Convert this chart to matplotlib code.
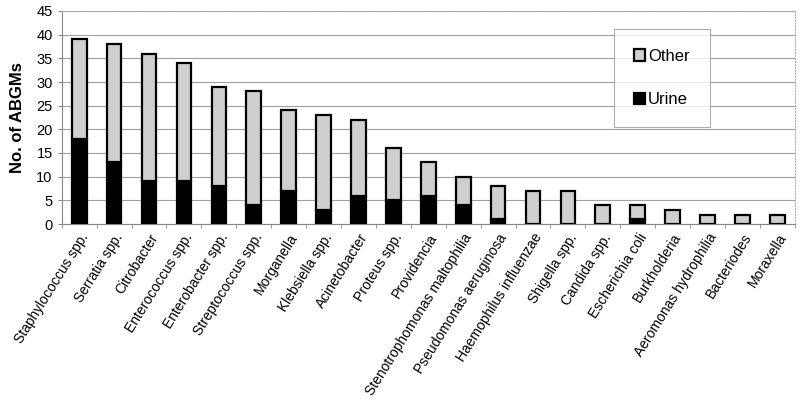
import numpy as np
import matplotlib
matplotlib.use('Agg')
import matplotlib.pyplot as plt

plt.rcParams['font.family'] = ['Liberation Sans', 'DejaVu Sans']

# Organisms and counts (ABGMs by source)
organisms = ['Staphylococcus spp.', 'Serratia spp.', 'Citrobacter', 'Enterococcus spp.',
             'Enterobacter spp.', 'Streptococcus spp.', 'Morganella', 'Klebsiella spp.',
             'Acinetobacter', 'Proteus spp.', 'Providencia', 'Stenotrophomonas maltophilia',
             'Pseudomonas aeruginosa', 'Haemophilus influenzae', 'Shigella spp.', 'Candida spp.',
             'Escherichia coli', 'Burkholderia', 'Aeromonas hydrophilia', 'Bacteriodes', 'Moraxella']
urine = [18, 13, 9, 9, 8, 4, 7, 3, 6, 5, 6, 4, 1, 0, 0, 0, 1, 0, 0, 0, 0]
other = [21, 25, 27, 25, 21, 24, 17, 20, 16, 11, 7, 6, 7, 7, 7, 4, 3, 3, 2, 2, 2]

fig = plt.figure(figsize=(8.02, 4.0), dpi=100)
ax = fig.add_axes([0.077, 0.44, 0.914, 0.5325])

x = np.arange(len(organisms))
w = 0.42
ax.bar(x, urine, w, color='black', edgecolor='black', linewidth=1.6, label='Urine', zorder=3)
ax.bar(x, other, w, bottom=urine, color='#cfcfcf', edgecolor='black', linewidth=1.6,
       label='Other', zorder=3)

ax.set_xlim(-0.5, len(organisms) - 0.5)
ax.set_ylim(0, 45)
ax.set_yticks(range(0, 46, 5))
ax.yaxis.grid(True, color='#a0a0a0', linewidth=0.8)
ax.set_axisbelow(True)

ax.set_xticks(x)
ax.set_xticklabels(organisms, rotation=58, ha='right', rotation_mode='anchor', fontsize=10)
ax.set_xticks(np.arange(-0.5, len(organisms), 1), minor=True)
ax.tick_params(axis='x', which='major', length=0, pad=5)
ax.tick_params(axis='x', which='minor', length=3, color='#888888')
ax.tick_params(axis='y', labelsize=10.5, length=3, color='#888888')

for s in ['top', 'right']:
    ax.spines[s].set_color('#b0b0b0')
    ax.spines[s].set_linestyle(':')
ax.spines['left'].set_color('#888888')
ax.spines['bottom'].set_color('#888888')

ax.set_ylabel('No. of ABGMs', fontsize=12, fontweight='bold', labelpad=8)

handles, labels = ax.get_legend_handles_labels()
leg = ax.legend(handles[::-1], labels[::-1], loc='upper left', bbox_to_anchor=(0.753, 0.915),
                fontsize=12, frameon=True, fancybox=False, edgecolor='#999999',
                handlelength=0.7, handleheight=0.7, handletextpad=0.15, labelspacing=1.7,
                borderpad=1.2, borderaxespad=0)
leg.get_frame().set_linewidth(0.8)

fig.savefig('out.png', dpi=100)
